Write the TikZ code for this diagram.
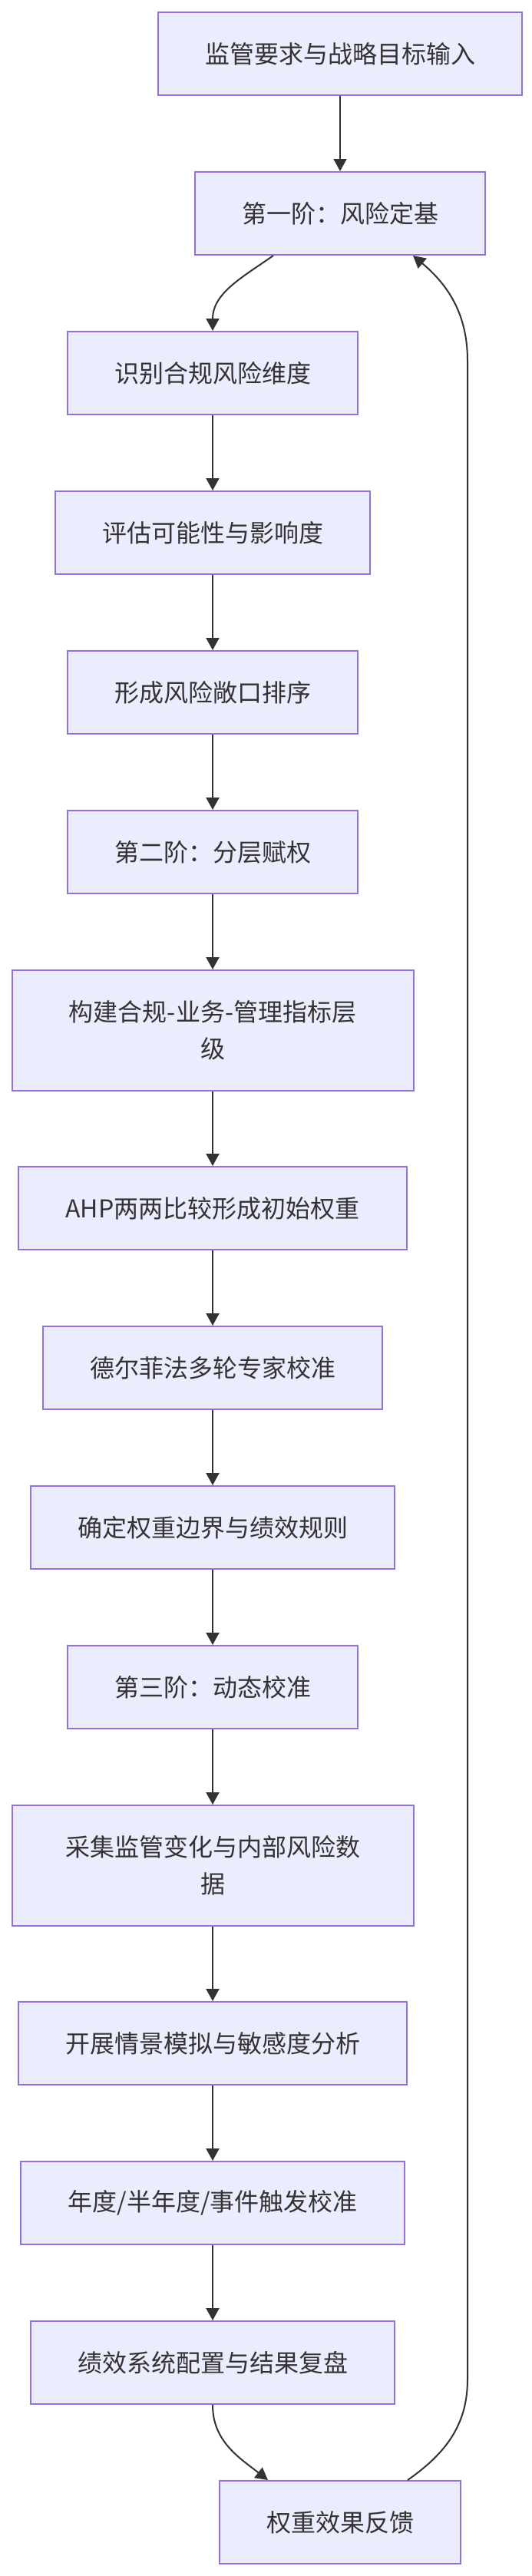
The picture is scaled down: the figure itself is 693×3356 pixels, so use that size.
\documentclass[tikz,border=0pt]{standalone}
\usepackage{fontspec}
\setmainfont{Noto Sans CJK SC}
\usetikzlibrary{arrows.meta}
\definecolor{boxfill}{HTML}{ECECFF}
\definecolor{boxline}{HTML}{9370DB}
\definecolor{edge}{HTML}{333333}
\definecolor{txt}{HTML}{333333}
\begin{document}
\begin{tikzpicture}[>={Triangle[length=16pt,width=17pt]},x=1pt,y=1pt,
  box/.style={draw=boxline,fill=boxfill,line width=2pt,minimum height=108pt,
    inner xsep=61pt,text=txt,font=\fontsize{32}{48}\selectfont},
  tallbox/.style={box,inner xsep=20pt,minimum width=523pt,minimum height=157pt,align=center},
  flow/.style={->,draw=edge,line width=2pt}]
  \useasboundingbox (0,0) rectangle (693,-3356);
  \node[box] (In) at (443,-70) {监管要求与战略目标输入};
  \node[box] (P1) at (443,-278) {第一阶：风险定基};
  \node[box] (RD) at (277,-486) {识别合规风险维度};
  \node[box] (RE) at (277,-694) {评估可能性与影响度};
  \node[box] (RS) at (277,-902) {形成风险敞口排序};
  \node[box] (P2) at (277,-1110) {第二阶：分层赋权};
  \node[tallbox] (WL) at (277,-1342.5) {构建合规-业务-管理指标层\\级};
  \node[box] (WA) at (277,-1574) {AHP两两比较形成初始权重};
  \node[box] (WD) at (277,-1782) {德尔菲法多轮专家校准};
  \node[box] (WB) at (277,-1990) {确定权重边界与绩效规则};
  \node[box] (P3) at (277,-2198) {第三阶：动态校准};
  \node[tallbox] (CD) at (277,-2430.5) {采集监管变化与内部风险数\\据};
  \node[box] (CS) at (277,-2662) {开展情景模拟与敏感度分析};
  \node[box] (CT) at (277,-2870) {年度/半年度/事件触发校准};
  \node[box] (CR) at (277,-3078) {绩效系统配置与结果复盘};
  \node[box] (FB) at (443,-3286) {权重效果反馈};
  \coordinate (up1) at (609,-3100);
  \coordinate (up2) at (609,-470);
  \draw[flow] (In) -- (P1);
  \draw[flow] ([xshift=-87pt]P1.south) to[out=-145,in=90] (RD);
  \draw[flow] (RD) -- (RE);
  \draw[flow] (RE) -- (RS);
  \draw[flow] (RS) -- (P2);
  \draw[flow] (P2) -- (WL);
  \draw[flow] (WL) -- (WA);
  \draw[flow] (WA) -- (WD);
  \draw[flow] (WD) -- (WB);
  \draw[flow] (WB) -- (P3);
  \draw[flow] (P3) -- (CD);
  \draw[flow] (CD) -- (CS);
  \draw[flow] (CS) -- (CT);
  \draw[flow] (CT) -- (CR);
  \draw[flow] (CR.south) to[out=-90,in=142] ([xshift=-94pt]FB.north);
  % feedback loop back to the first stage
  \draw[flow] ([xshift=88pt]FB.north) to[out=35,in=-90] (up1) -- (up2)
    to[out=90,in=-40] ([xshift=95pt]P1.south);
\end{tikzpicture}
\end{document}
